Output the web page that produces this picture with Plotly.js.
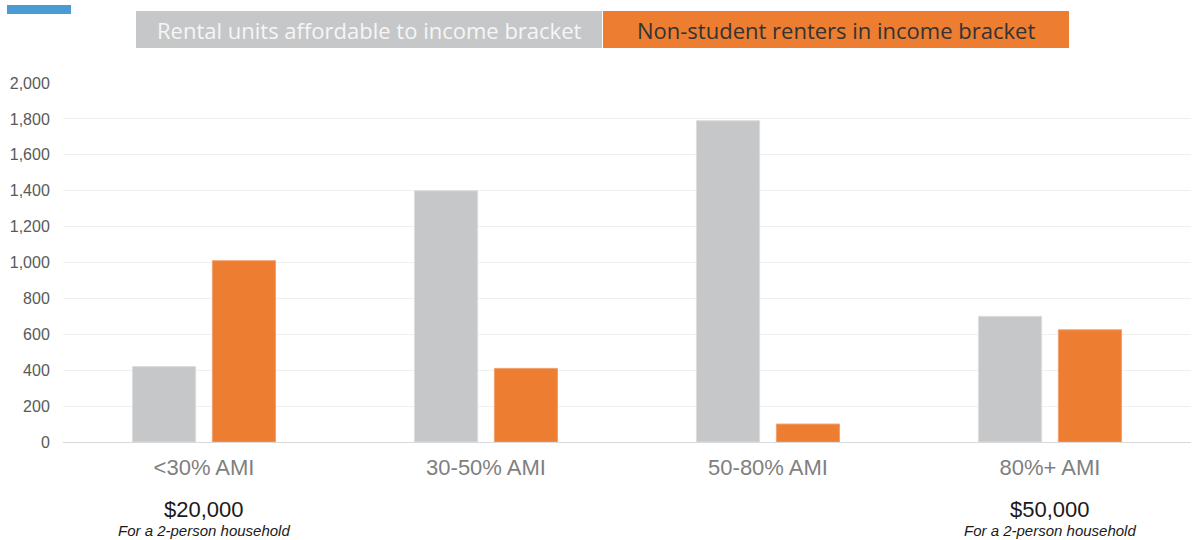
<!DOCTYPE html>
<html>
<head>
<meta charset="utf-8">
<script src="https://cdn.plot.ly/plotly-3.0.1.min.js"></script>
<style>html,body{margin:0;padding:0;background:#fff;}#chart{width:1195px;height:540px;}</style>
</head>
<body>
<div id="chart"></div>
<script>
const categories = ["<30% AMI", "30-50% AMI", "50-80% AMI", "80%+ AMI"];
const rentalUnits = [420, 1400, 1790, 700];
const nonStudentRenters = [1010, 410, 100, 625];
const seriesNames = ["Rental units affordable to income bracket", "Non-student renters in income bracket"];
const incomeLabels = [{cat: "<30% AMI", amount: "$20,000"}, {cat: "80%+ AMI", amount: "$50,000"}];
const householdNote = "For a 2-person household";

const W = 1195, H = 540, L = 63, R = 4, T = 83, B = 98;
const pw = W - L - R, ph = H - T - B;
const px = x => (x - L) / pw;
const py = y => (H - B - y) / ph;

const traces = [
  {type: 'bar', name: seriesNames[0], x: categories, y: rentalUnits, marker: {color: '#c6c7c9', line: {color: '#dcdcdd', width: 1}}, hoverinfo: 'x+y'},
  {type: 'bar', name: seriesNames[1], x: categories, y: nonStudentRenters, marker: {color: '#ed7d31', line: {color: '#f2a070', width: 1}}, hoverinfo: 'x+y'}
];

const annotations = [
  {xref: 'paper', yref: 'paper', x: (px(136) + px(602)) / 2, y: py(30), text: seriesNames[0], showarrow: false, xanchor: 'center', yanchor: 'middle', font: {family: 'Open Sans, Noto Sans, sans-serif', size: 22, color: '#f6f6f6'}},
  {xref: 'paper', yref: 'paper', x: (px(602) + px(1069)) / 2, y: py(30), text: seriesNames[1], showarrow: false, xanchor: 'center', yanchor: 'middle', font: {family: 'Open Sans, Noto Sans, sans-serif', size: 22, color: '#333333'}}
];
incomeLabels.forEach(o => {
  annotations.push({xref: 'x', yref: 'paper', x: o.cat, y: py(509), text: o.amount, showarrow: false, xanchor: 'center', yanchor: 'middle', font: {family: 'Liberation Sans, Arial, sans-serif', size: 22, color: '#1a1a1a'}});
  annotations.push({xref: 'x', yref: 'paper', x: o.cat, y: py(530), text: '<i>' + householdNote + '</i>', showarrow: false, xanchor: 'center', yanchor: 'middle', font: {family: 'Liberation Sans, Arial, sans-serif', size: 15, color: '#1a1a1a'}});
});

const shapes = [
  {type: 'rect', xref: 'paper', yref: 'paper', x0: px(7), x1: px(71), y0: py(14), y1: py(5), fillcolor: '#4a9ad4', line: {width: 0}},
  {type: 'rect', xref: 'paper', yref: 'paper', x0: px(136), x1: px(602), y0: py(48), y1: py(11), fillcolor: '#c6c7c9', line: {width: 0}},
  {type: 'rect', xref: 'paper', yref: 'paper', x0: px(603), x1: px(1069), y0: py(48), y1: py(11), fillcolor: '#ed7d31', line: {width: 0}}
];

const layout = {
  width: W, height: H,
  margin: {l: L, r: R, t: T, b: B, pad: 0},
  paper_bgcolor: '#ffffff', plot_bgcolor: '#ffffff',
  showlegend: false,
  barmode: 'group',
  bargap: 0.433,
  bargroupgap: 0.21,
  xaxis: {
    type: 'category',
    tickfont: {family: 'Liberation Sans, Arial, sans-serif', size: 22, color: '#7f7f7f'},
    showgrid: false, zeroline: false,
    showline: true, linecolor: '#d9d9d9', linewidth: 1,
    ticks: 'outside', ticklen: 6, tickcolor: 'rgba(0,0,0,0)',
    fixedrange: true
  },
  yaxis: {
    range: [0, 2000],
    dtick: 200,
    tickformat: ',d',
    tickfont: {family: 'Liberation Sans, Arial, sans-serif', size: 16, color: '#595959'},
    showgrid: true, gridcolor: '#f0f0f0', gridwidth: 1,
    zeroline: false, showline: false,
    ticks: 'outside', ticklen: 9, tickcolor: 'rgba(0,0,0,0)',
    fixedrange: true
  },
  annotations: annotations,
  shapes: shapes
};

Plotly.newPlot('chart', traces, layout, {displayModeBar: false, staticPlot: true});
</script>
</body>
</html>
